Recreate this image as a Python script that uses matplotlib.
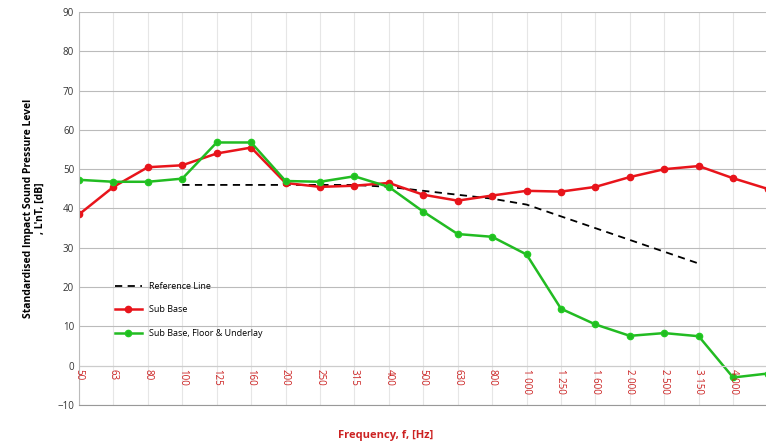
import numpy as np
import matplotlib.pyplot as plt

plt.rcParams['font.family'] = ['Open Sans', 'DejaVu Sans']

freqs = ['50', '63', '80', '100', '125', '160', '200', '250', '315', '400', '500',
         '630', '800', '1 000', '1 250', '1 600', '2 000', '2 500', '3 150', '4 000', '5 000']
sub_base = [38.5, 45.5, 50.5, 51.0, 54.0, 55.5, 46.5, 45.5, 45.8, 46.5, 43.5,
            42.0, 43.3, 44.5, 44.3, 45.5, 48.0, 50.0, 50.8, 47.7, 45.0]
sub_floor = [47.3, 46.8, 46.8, 47.6, 56.8, 56.8, 47.0, 46.8, 48.2, 45.5, 39.2,
             33.5, 32.8, 28.3, 14.5, 10.5, 7.6, 8.3, 7.5, -3.0, -2.0]
# reference curve runs from 100 Hz to 3 150 Hz
ref_line = [46, 46, 46, 46, 46, 46, 45.5, 44.5, 43.5, 42.5, 41, 38, 35, 32, 29, 26]

x = np.arange(len(freqs))
x_ref = np.arange(3, 3 + len(ref_line))

fig = plt.figure(figsize=(7.66, 4.45), dpi=100)
ax = fig.add_axes([79 / 766, 40 / 445, 1 - 79 / 766 + 0.002, 393 / 445])

ax.plot(x_ref, ref_line, color='black', linestyle=(0, (4, 3)), lw=1.3, label='Reference Line')
ax.plot(x, sub_base, color='#e8141b', marker='o', ms=4.5, lw=1.8, label='Sub Base')
ax.plot(x, sub_floor, color='#22bb22', marker='o', ms=4.5, lw=1.8, mec='#22cc22', label='Sub Base, Floor & Underlay')

ax.set_xlim(0, 20.0)
ax.set_ylim(-10, 90)
ax.set_yticks(range(-10, 91, 10))
ax.set_xticks(x)
ax.set_xticklabels([])
ax.tick_params(axis='x', length=0)
ax.tick_params(axis='y', length=0, labelsize=7, colors='#333333')
ax.grid(axis='x', color='#e6e6e6', lw=0.8)
ax.grid(axis='y', color='#bbbbbb', lw=0.8)
ax.set_axisbelow(True)
for s in ['top', 'right']:
    ax.spines[s].set_visible(False)
ax.spines['left'].set_color('#bbbbbb')
ax.spines['bottom'].set_color('#999999')
ax.axhline(0, color='#cccccc', lw=0.8)

for xi, f in zip(x, freqs):
    ax.text(xi, -0.8, f, rotation=270, ha='center', va='top', fontsize=7, color='#cc2222')

ax.set_ylabel("Standardised Impact Sound Pressure Level\n, L'nT, [dB]", fontsize=7.5, fontweight='bold', labelpad=8)
fig.text(0.503, 0.015, 'Frequency, f, [Hz]', color='#cc2222', fontsize=8, fontweight='bold', ha='center')

ax.legend(loc='lower left', bbox_to_anchor=(0.04, 0.15), frameon=False, fontsize=6.5,
          labelspacing=1.6, handlelength=3)

fig.savefig('out.png', dpi=100)
